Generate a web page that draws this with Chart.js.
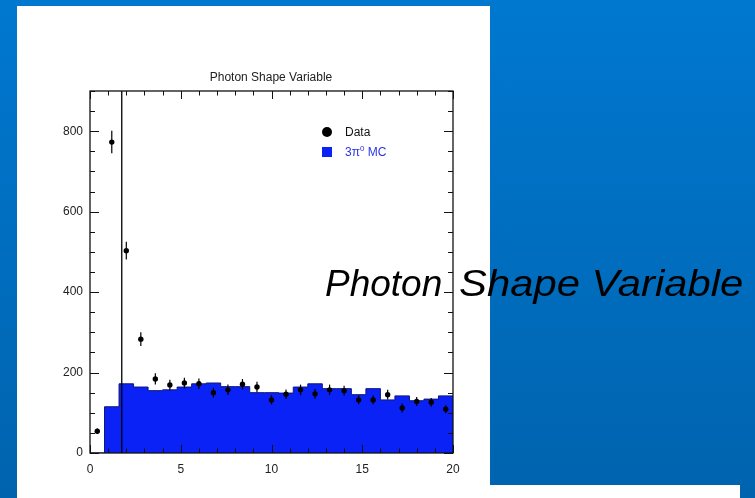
<!DOCTYPE html>
<html>
<head>
<meta charset="utf-8">
<script src="https://cdn.jsdelivr.net/npm/chart.js@4/dist/chart.umd.min.js"></script>
<style>
  html, body { margin: 0; padding: 0; }
  body {
    width: 755px; height: 498px; overflow: hidden; position: relative;
    background: linear-gradient(to bottom, #0078d0, #0063ae);
    font-family: 'Liberation Sans', Arial, sans-serif;
  }
  .panel { position: absolute; background: #fff; }
  #chart { position: absolute; left: 0; top: 0; }
  .txt { position: absolute; white-space: nowrap; z-index: 2; }
  #title { left: 171px; width: 200px; top: 70px; text-align: center; font-size: 12px; color: #222; }
  .dot { position: absolute; left: 322px; top: 127px; width: 10px; height: 10px; border-radius: 50%; background: #000; z-index: 2; }
  .sq { position: absolute; left: 322px; top: 147px; width: 10px; height: 10px; background: #0a22f5; z-index: 2; }
  #lgData { left: 345px; top: 125px; font-size: 12px; color: #111; line-height: 14px; }
  #lgMC { left: 345px; top: 145px; font-size: 12px; color: #2a34e8; line-height: 14px; }
  #lgMC sup { font-size: 8px; vertical-align: 5px; line-height: 0; }
  #big { left: 325px; top: 265px; font-size: 37px; line-height: 37px; font-style: italic; color: #000; word-spacing: 6px; }
  #big .wide { display: inline-block; transform: scaleX(1.13); transform-origin: left center; word-spacing: 0; }
</style>
</head>
<body>
<div class="panel" style="left:17px; top:6px; width:473px; height:492px;"></div>
<div class="panel" style="left:490px; top:485px; width:250px; height:13px;"></div>
<canvas id="chart" width="755" height="498"></canvas>
<div class="txt" id="title">Photon Shape Variable</div>
<div class="dot"></div>
<div class="txt" id="lgData">Data</div>
<div class="sq"></div>
<div class="txt" id="lgMC">3&pi;<sup>0</sup> MC</div>
<div class="txt" id="big">Photon <span class="wide">Shape Variable</span></div>
<script>
(function () {
  'use strict';

  // --- Data ---

  var binWidth = 0.8;
  var binCenters = [0.4, 1.2, 2.0, 2.8, 3.6, 4.4, 5.2, 6.0, 6.8, 7.6, 8.4, 9.2, 10.0,
    10.8, 11.6, 12.4, 13.2, 14.0, 14.8, 15.6, 16.4, 17.2, 18.0, 18.8, 19.6];
  var mcValues = [0, 115, 172, 164, 155, 157, 164, 172, 174, 165, 165, 150, 150,
    149, 164, 172, 160, 160, 145, 160, 132, 142, 130, 134, 142];
  var dataValues = [54, 773, 503, 283, 184, 169, 174, 172, 150, 157, 171, 164, 132,
    146, 157, 147, 157, 155, 132, 132, 145, 112, 128, 126, 109];
  var dataErrors = [7, 28, 22, 17, 14, 13, 13, 13, 12, 13, 13, 13, 11,
    12, 13, 12, 13, 12, 11, 11, 12, 11, 11, 11, 10];
  var cutValue = 1.75;
  var xTicks = [0, 5, 10, 15, 20];
  var yTicks = [0, 200, 400, 600, 800];

  var mcColor = '#0a22f5';
  var font = { family: "'Liberation Sans', Arial, sans-serif", size: 12 };

  // step outline: first point is the left edge, then each bin's right edge
  var mcPoints = [{ x: binCenters[0] - binWidth / 2, y: mcValues[0] }];
  binCenters.forEach(function (c, i) { mcPoints.push({ x: c + binWidth / 2, y: mcValues[i] }); });

  var dataPoints = binCenters.map(function (c, i) { return { x: c, y: dataValues[i] }; });

  // --- Plugins ---

  // error bars, drawn right after the cut line so the markers sit on top
  var errorBars = {
    id: 'errorBars',
    afterDatasetDraw: function (chart, args) {
      if (chart.data.datasets[args.index].label !== 'cut') return;
      var xs = chart.scales.x, ys = chart.scales.y, ctx = chart.ctx;
      ctx.save();
      ctx.strokeStyle = '#000';
      ctx.lineWidth = 1.2;
      binCenters.forEach(function (c, i) {
        var px = xs.getPixelForValue(c);
        ctx.beginPath();
        ctx.moveTo(px, ys.getPixelForValue(dataValues[i] - dataErrors[i]));
        ctx.lineTo(px, ys.getPixelForValue(dataValues[i] + dataErrors[i]));
        ctx.stroke();
      });
      ctx.restore();
    }
  };

  // ROOT-style frame with inward ticks on all four sides
  var frameTicks = {
    id: 'frameTicks',
    afterDatasetsDraw: function (chart) {
      var a = chart.chartArea, xs = chart.scales.x, ys = chart.scales.y, ctx = chart.ctx;
      ctx.save();
      ctx.strokeStyle = '#111';
      ctx.lineWidth = 1;
      ctx.beginPath();
      var v, p, len;
      for (v = 0; v <= 20; v += 1) {
        p = Math.round(xs.getPixelForValue(v)) + 0.5;
        len = v % 5 === 0 ? 8 : 4.5;
        ctx.moveTo(p, a.bottom); ctx.lineTo(p, a.bottom - len);
        ctx.moveTo(p, a.top); ctx.lineTo(p, a.top + len);
      }
      for (v = 0; v <= 900; v += 50) {
        p = Math.round(ys.getPixelForValue(v)) + 0.5;
        len = v % 200 === 0 ? 9 : 5;
        ctx.moveTo(a.left, p); ctx.lineTo(a.left + len, p);
        ctx.moveTo(a.right, p); ctx.lineTo(a.right - len, p);
      }
      ctx.stroke();
      ctx.lineWidth = 1.3;
      ctx.strokeRect(a.left, a.top, a.right - a.left, a.bottom - a.top);
      ctx.restore();
    }
  };

  // --- Chart ---

  new Chart(document.getElementById('chart').getContext('2d'), {
    type: 'line',
    data: {
      datasets: [
        {
          label: 'Data',
          data: dataPoints,
          showLine: false,
          pointRadius: 2.7,
          pointBackgroundColor: '#000',
          pointBorderWidth: 0,
          order: 1
        },
        {
          label: 'cut',
          data: [{ x: cutValue, y: 0 }, { x: cutValue, y: 900 }],
          borderColor: '#000',
          borderWidth: 1.3,
          pointRadius: 0,
          order: 2
        },
        {
          label: '3pi0 MC',
          data: mcPoints,
          stepped: 'after',
          fill: 'origin',
          backgroundColor: mcColor,
          borderColor: '#10187a',
          borderWidth: 1,
          pointRadius: 0,
          order: 3
        }
      ]
    },
    options: {
      responsive: false,
      animation: false,
      devicePixelRatio: 1,
      layout: { padding: { left: 0, top: 91, right: 302, bottom: 0 } },
      plugins: { legend: { display: false }, tooltip: { enabled: false }, title: { display: false } },
      scales: {
        x: {
          type: 'linear', min: 0, max: 20,
          grid: { display: false, drawTicks: false },
          border: { display: false },
          afterBuildTicks: function (s) { s.ticks = xTicks.map(function (t) { return { value: t }; }); },
          afterFit: function (s) { s.height = 45; },
          ticks: { color: '#222', font: font, padding: 9, maxRotation: 0 }
        },
        y: {
          type: 'linear', min: 0, max: 900,
          grid: { display: false, drawTicks: false },
          border: { display: false },
          afterBuildTicks: function (s) { s.ticks = yTicks.map(function (t) { return { value: t }; }); },
          afterFit: function (s) { s.width = 90; },
          ticks: { color: '#222', font: font, padding: 7 }
        }
      }
    },
    plugins: [errorBars, frameTicks]
  });
})();
</script>
</body>
</html>
